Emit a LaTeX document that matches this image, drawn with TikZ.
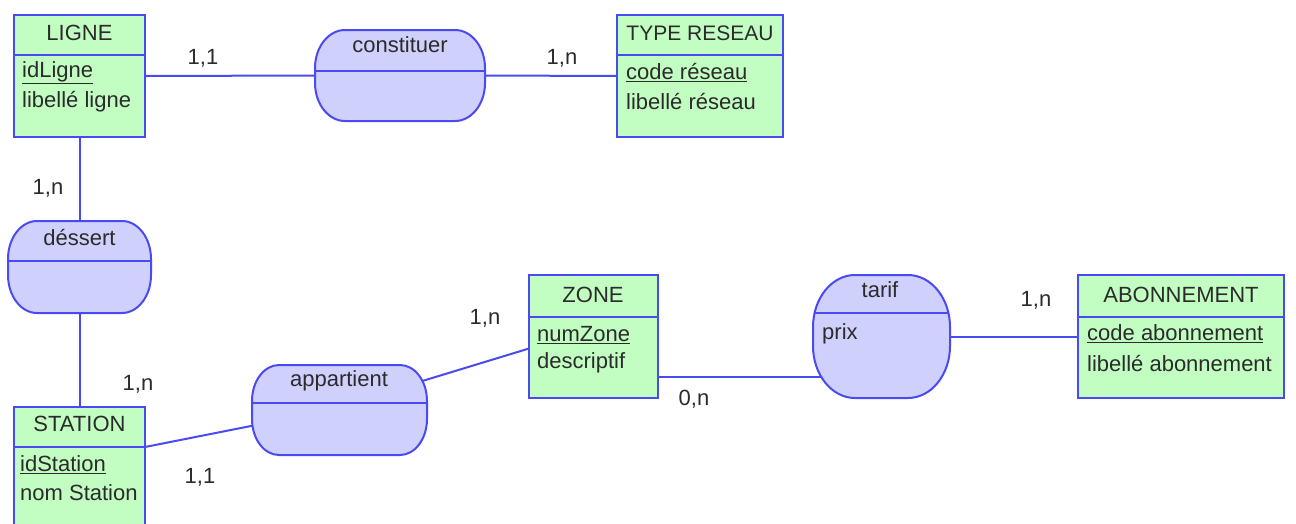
\documentclass[tikz,border=0pt]{standalone}
\usepackage{fontspec}
\setmainfont{Liberation Sans}
\definecolor{entfill}{HTML}{C2FDC2}
\definecolor{relfill}{HTML}{D0D0FC}
\definecolor{edge}{HTML}{4A4AF2}
\definecolor{ink}{HTML}{2B2B2B}
\tikzset{
  ent/.style={draw=edge, fill=entfill, line width=2pt, anchor=north west, inner sep=0pt, outer sep=0pt,
    path picture={\draw[edge, line width=2pt] ([yshift=-#1]path picture bounding box.north west) -- ([yshift=-#1]path picture bounding box.north east);}},
  relnode/.style={anchor=north west, inner sep=0pt, outer sep=0pt},
  relshape/.style={draw=edge, fill=relfill, line width=2pt,
    path picture={\draw[edge, line width=2pt] ([yshift=-#1]path picture bounding box.north west) -- ([yshift=-#1]path picture bounding box.north east);}},
  conn/.style={draw=edge, line width=2pt},
  txt/.style={font=\fontsize{22}{27}\selectfont, text=ink, inner sep=0pt},
  attr/.style={txt, anchor=west},
}
% #1 node name, #2 x radius, #3 y radius, #4 divider offset from top
\newcommand\relbox[4]{%
  \draw[relshape=#4]
    ([xshift=#2]#1.north west) -- ([xshift=-#2]#1.north east)
    arc[start angle=90, end angle=0, x radius=#2, y radius=#3]
    -- ([yshift=#3]#1.south east)
    arc[start angle=0, end angle=-90, x radius=#2, y radius=#3]
    -- ([xshift=#2]#1.south west)
    arc[start angle=270, end angle=180, x radius=#2, y radius=#3]
    -- ([yshift=-#3]#1.north west)
    arc[start angle=180, end angle=90, x radius=#2, y radius=#3] -- cycle;}
\begin{document}
\begin{tikzpicture}[x=1pt, y=-1pt]
\useasboundingbox (0,0) rectangle (1296,523);

% entities
\node[ent=40, minimum width=131, minimum height=122] (ligne) at (14,15) {};
\node[ent=40, minimum width=166, minimum height=122] (typeres) at (617,15) {};
\node[ent=40, minimum width=131, minimum height=140] (station) at (14,407) {};
\node[ent=42, minimum width=129, minimum height=123] (zone) at (529,275) {};
\node[ent=42, minimum width=206, minimum height=123] (abon) at (1078,275) {};

% relationship frames (shapes drawn after the connectors)
\node[relnode, minimum width=170, minimum height=91] (constituer) at (315,30) {};
\node[relnode, minimum width=143, minimum height=92] (dessert) at (8,221) {};
\node[relnode, minimum width=175, minimum height=90] (appartient) at (252,365) {};
\node[relnode, minimum width=137, minimum height=123] (tarif) at (813,275) {};

% connectors
\draw[conn] (ligne.east) -- (constituer.west);
\draw[conn] (constituer.east) -- (typeres.west);
\draw[conn] (ligne.south) -- (dessert.north);
\draw[conn] (dessert.south) -- (station.north);
\draw[conn] ([yshift=-40]station.north east) -- ([xshift=4,yshift=-15]appartient.west);
\draw[conn] ([xshift=-8,yshift=28]appartient.east) -- ([yshift=-12]zone.west);
\draw[conn] ([yshift=-40]zone.east) -- ([xshift=20,yshift=-40]tarif.west);
\draw[conn] ([xshift=-4]tarif.east) -- (abon.west);

% relationship shapes
\relbox{constituer}{30pt}{38pt}{41}
\relbox{dessert}{29pt}{38pt}{40}
\relbox{appartient}{27pt}{36pt}{38}
\relbox{tarif}{42pt}{52pt}{38}

% entity texts
\node[txt] (ligneT) at (79.5,33) {LIGNE};
\node[attr] (ligneA1) at (22,73) {\underline{idLigne}};
\node[attr] (ligneA2) at (22,102) {libellé ligne};

\node[txt, font=\fontsize{21}{27}\selectfont] (typeT) at (700,33) {TYPE RESEAU};
\node[attr] (typeA1) at (626,73) {\underline{code réseau}};
\node[attr] (typeA2) at (626,102) {libellé réseau};

\node[txt] (stationT) at (79.5,424) {STATION};
\node[attr] (stationA1) at (20,465) {\underline{idStation}};
\node[attr] (stationA2) at (20,493) {nom Station};

\node[txt] (zoneT) at (593,295) {ZONE};
\node[attr] (zoneA1) at (537,335) {\underline{numZone}};
\node[attr] (zoneA2) at (537,363) {descriptif};

\node[txt] (abonT) at (1181,295) {ABONNEMENT};
\node[attr] (abonA1) at (1087,334) {\underline{code abonnement}};
\node[attr] (abonA2) at (1087,363) {libellé abonnement};

% relationship texts
\node[txt] (constT) at (400,45) {constituer};
\node[txt] (dessT) at (79.5,238) {déssert};
\node[txt] (appT) at (339,381) {appartient};
\node[txt] (tarifT) at (880,290) {tarif};
\node[attr] (prix) at (822,334) {prix};

% cardinalities
\node[txt] (c1) at (203,58) {1,1};
\node[txt] (c2) at (562,58) {1,n};
\node[txt] (c3) at (48,188) {1,n};
\node[txt] (c4) at (138,384) {1,n};
\node[txt] (c5) at (200,477) {1,1};
\node[txt] (c6) at (485,318) {1,n};
\node[txt] (c7) at (694,399) {0,n};
\node[txt] (c8) at (1036,300) {1,n};
\end{tikzpicture}
\end{document}
